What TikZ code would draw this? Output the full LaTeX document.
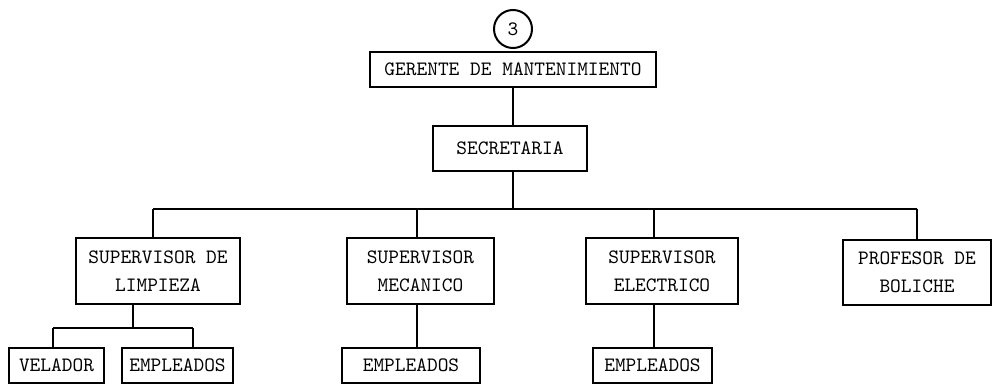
\documentclass[tikz,border=0pt]{standalone}
\begin{document}
\begin{tikzpicture}[x=0.5pt, y=-0.5pt, line width=1pt,
	puesto/.style={draw, rectangle, inner sep=0pt, align=center,
		font=\ttfamily\fontsize{10.2}{14}\selectfont}]
	\useasboundingbox (0, 0) rectangle (992, 385);
	\clip (0, 0) rectangle (992, 385);

	\node[draw, circle, inner sep=0pt, minimum size=19pt, font=\ttfamily\fontsize{10.2}{11}\selectfont] (numero) at (513, 29) {3};
	\node[puesto, minimum width=143pt, minimum height=17.5pt] (gerente) at (513, 69.5) {GERENTE DE MANTENIMIENTO};
	\node[puesto, minimum width=77pt, minimum height=22.5pt] (secretaria) at (510, 148.5) {SECRETARIA};

	\node[puesto, minimum width=82pt, minimum height=33pt] (limpieza) at (158, 271) {SUPERVISOR DE\\LIMPIEZA};
	\node[puesto, minimum width=73.5pt, minimum height=33pt] (mecanico) at (420.5, 271) {SUPERVISOR\\MECANICO};
	\node[puesto, minimum width=76pt, minimum height=33pt] (electrico) at (662, 271) {SUPERVISOR\\ELECTRICO};
	\node[puesto, minimum width=74pt, minimum height=32.5pt] (profesor) at (917, 272.5) {PROFESOR DE\\BOLICHE};

	\node[puesto, minimum width=47.5pt, minimum height=17.5pt] (velador) at (56.5, 365.5) {VELADOR};
	\node[puesto, minimum width=55.5pt, minimum height=17.5pt] (empleadosL) at (177.5, 365.5) {EMPLEADOS};
	\node[puesto, minimum width=69pt, minimum height=17.5pt] (empleadosM) at (411, 365.5) {EMPLEADOS};
	\node[puesto, minimum width=59.5pt, minimum height=17.5pt] (empleadosE) at (652.5, 365.5) {EMPLEADOS};

	\coordinate (bus) at (513, 209);
	\coordinate (busL) at (153, 209);
	\coordinate (busM) at (417, 209);
	\coordinate (busE) at (654, 209);
	\coordinate (busR) at (917, 209);
	\coordinate (subL) at (53, 328);
	\coordinate (subC) at (133, 328);
	\coordinate (subR) at (193, 328);

	\draw (gerente.south) -- (gerente.south |- secretaria.north);
	\draw (bus |- secretaria.south) -- (bus);
	\draw (busL) -- (busR);
	\draw (busL) -- (busL |- limpieza.north);
	\draw (busM) -- (busM |- mecanico.north);
	\draw (busE) -- (busE |- electrico.north);
	\draw (busR) -- (profesor.north);

	\draw (subC |- limpieza.south) -- (subC);
	\draw (subL) -- (subR);
	\draw (subL) -- (subL |- velador.north);
	\draw (subR) -- (subR |- empleadosL.north);
	\draw (busM |- mecanico.south) -- (busM |- empleadosM.north);
	\draw (busE |- electrico.south) -- (busE |- empleadosE.north);
\end{tikzpicture}
\end{document}
